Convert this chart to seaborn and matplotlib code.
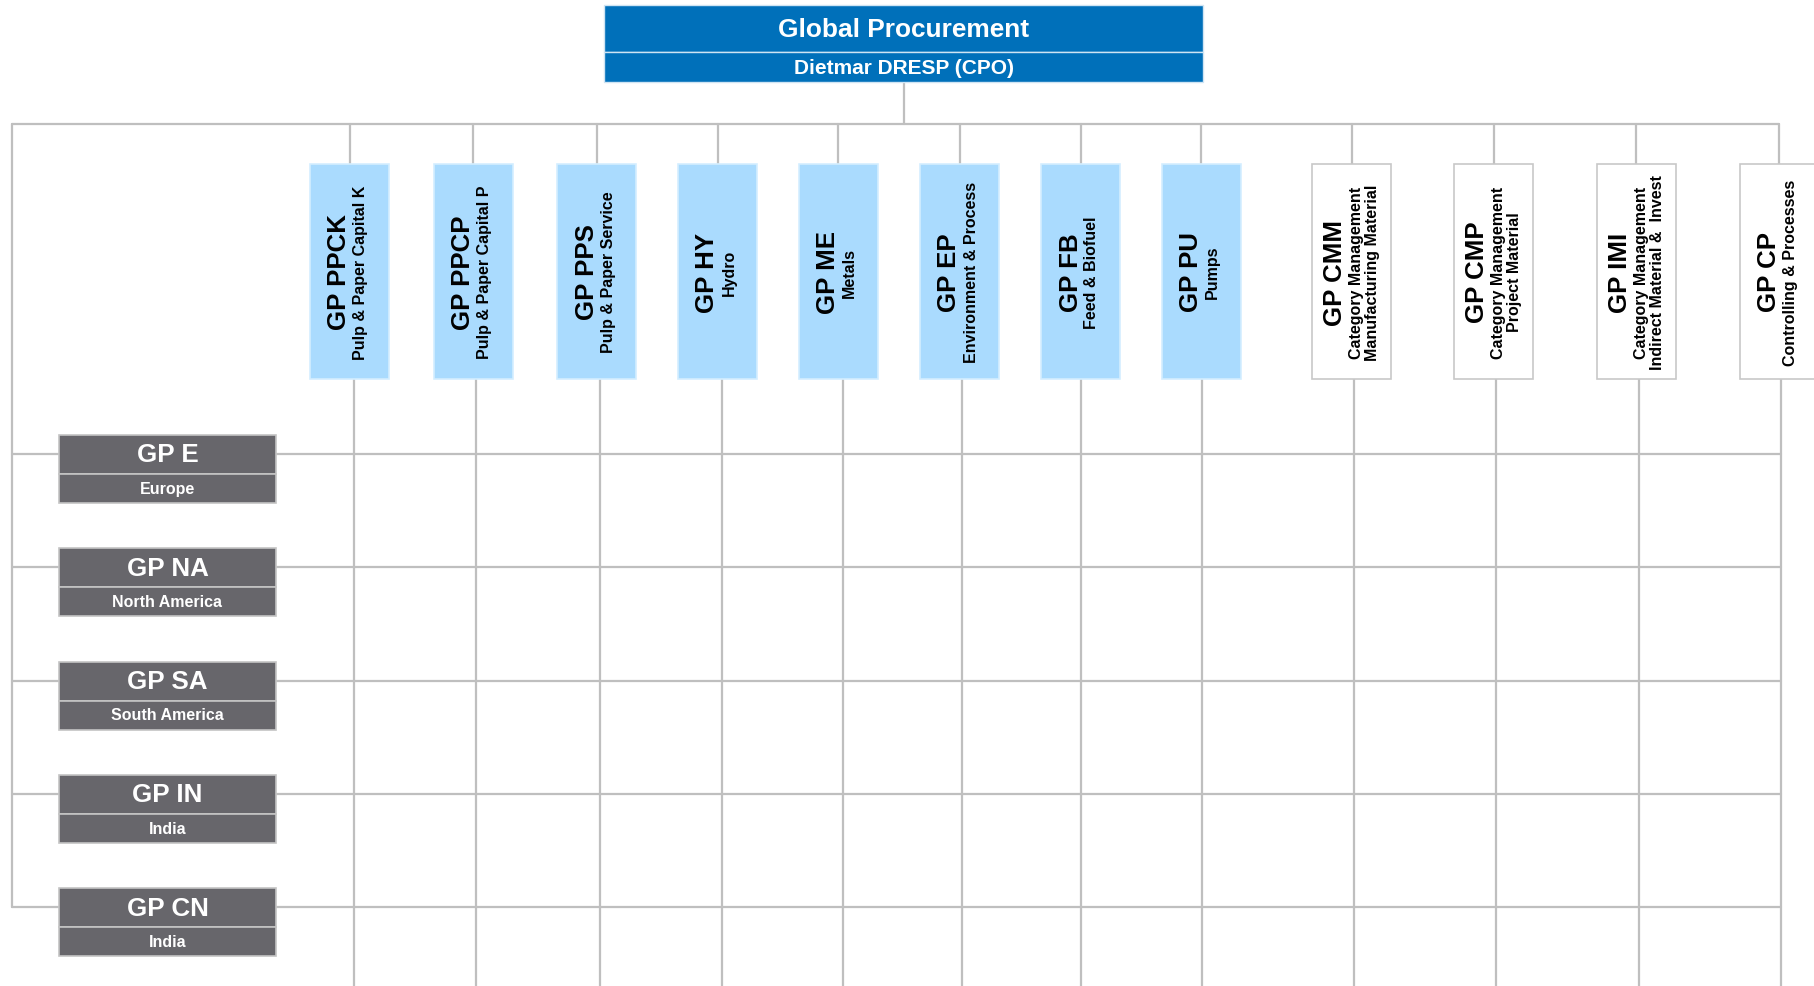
import numpy as np
import pandas as pd
import matplotlib
matplotlib.use("Agg")
import matplotlib.pyplot as plt
import seaborn as sns
from matplotlib.patches import Rectangle

# chart content
head_title = "Global Procurement"
head_name = "Dietmar DRESP (CPO)"

bu_codes = ["GP PPCK", "GP PPCP", "GP PPS", "GP HY", "GP ME", "GP EP", "GP FB", "GP PU"]
bu_names = [["Pulp & Paper Capital K"], ["Pulp & Paper Capital P"], ["Pulp & Paper Service"],
            ["Hydro"], ["Metals"], ["Environment & Process"], ["Feed & Biofuel"], ["Pumps"]]

fn_codes = ["GP CMM", "GP CMP", "GP IMI", "GP CP"]
fn_names = [["Category Management", "Manufacturing Material"],
            ["Category Management", "Project Material"],
            ["Category Management", "Indirect Material &  Invest"],
            ["Controlling & Processes"]]

region_codes = ["GP E", "GP NA", "GP SA", "GP IN", "GP CN"]
region_names = ["Europe", "North America", "South America", "India", "India"]

# colours
BLUE = "#0070BA"
LIGHT_BLUE = "#AADBFE"
GREY_BOX = "#67666B"
LINE = "#BFBFBF"

sns.set_theme(style="white")
plt.rcParams['font.family'] = ['Liberation Sans', 'DejaVu Sans']

W, H = 1814, 987
fig = plt.figure(figsize=(W / 100, H / 100), dpi=100)
ax = fig.add_axes([0, 0, 1, 1])
ax.set_xlim(0, W)
ax.set_ylim(H, 0)
ax.axis("off")

# layout (pixel units)
bus_y = 125
left_x = 12
box_top, box_bot, box_w = 165, 380, 79
col_x = [349.5, 473, 596.5, 717.5, 838, 959.5, 1080.5, 1201, 1351.5, 1493.5, 1636, 1779]
drop_x = [354, 476, 600, 722, 843, 962, 1081, 1202, 1354, 1496, 1639, 1781]
row_y = 455 + 113.25 * np.arange(len(region_codes))
row_end = 1781

cols = pd.DataFrame({
    "code": bu_codes + fn_codes,
    "names": bu_names + fn_names,
    "x": col_x,
    "drop": drop_x,
    "kind": ["bu"] * len(bu_codes) + ["fn"] * len(fn_codes),
})

lw = 1.6
# head box
ax.add_patch(Rectangle((604, 6), 599, 47, facecolor=BLUE, edgecolor="#CFE4F3", lw=1, zorder=3))
ax.add_patch(Rectangle((604, 53), 599, 30, facecolor=BLUE, edgecolor="#CFE4F3", lw=1, zorder=3))
ax.text(904, 30, head_title, color="white", fontsize=18.9, fontweight="bold",
        ha="center", va="center", zorder=4)
ax.text(904, 68.5, head_name, color="white", fontsize=15, fontweight="bold",
        ha="center", va="center", zorder=4)

# connector lines
ax.plot([904, 904], [83, bus_y], color=LINE, lw=lw, zorder=1)
ax.plot([left_x, cols["x"].iloc[-1]], [bus_y, bus_y], color=LINE, lw=lw, zorder=1)
ax.plot([left_x, left_x], [bus_y, row_y[-1]], color=LINE, lw=lw, zorder=1)
for y in row_y:
    ax.plot([left_x, row_end], [y, y], color=LINE, lw=lw, zorder=1)

# column boxes
yc = (box_top + box_bot) / 2
for _, c in cols.iterrows():
    x = c["x"]
    ax.plot([x, x], [bus_y, box_top], color=LINE, lw=lw, zorder=1)
    ax.plot([c["drop"], c["drop"]], [box_bot, H], color=LINE, lw=lw, zorder=1)
    if c["kind"] == "bu":
        fc, ec = LIGHT_BLUE, "#D4EEFF"
    else:
        fc, ec = "white", "#C8C8C8"
    ax.add_patch(Rectangle((x - box_w / 2, box_top), box_w, box_bot - box_top,
                           facecolor=fc, edgecolor=ec, lw=1.2, zorder=3))
    k = len(c["names"])
    tx = x - 10 - 6 * (k - 1)
    ax.text(tx, yc, c["code"], rotation=90, fontsize=18.6, fontweight="bold",
            color="black", ha="center", va="center", zorder=4)
    for j, name in enumerate(c["names"]):
        ax.text(tx + 21.5 + 16 * j, yc, name, rotation=90, fontsize=11.5,
                fontweight="bold", color="black", ha="center", va="center", zorder=4)

# region boxes
for y, code, name in zip(row_y, region_codes, region_names):
    ax.add_patch(Rectangle((59, y - 19), 217, 39, facecolor=GREY_BOX, edgecolor="#C4C4C4",
                           lw=1.2, zorder=3))
    ax.add_patch(Rectangle((59, y + 20), 217, 29, facecolor=GREY_BOX, edgecolor="#C4C4C4",
                           lw=1.2, zorder=3))
    ax.text(167.5, y + 0.5, code, color="white", fontsize=18.7, fontweight="bold",
            ha="center", va="center", zorder=4)
    ax.text(167.5, y + 34.5, name, color="white", fontsize=11.5, fontweight="bold",
            ha="center", va="center", zorder=4)

fig.savefig("out.png", dpi=100, facecolor="white")
